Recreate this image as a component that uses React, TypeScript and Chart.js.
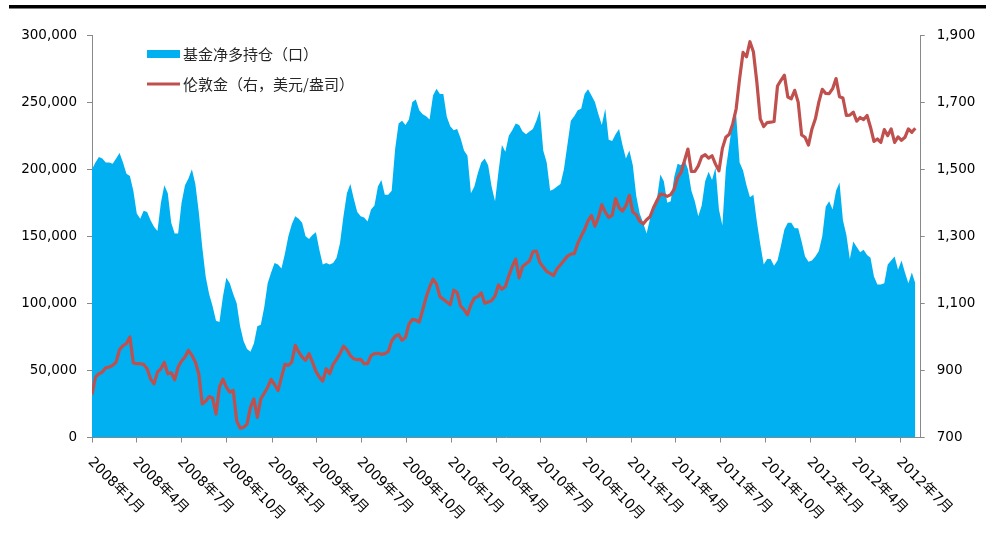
import React, { useEffect, useRef } from 'react';
import { Chart, registerables } from 'chart.js';

Chart.register(...registerables);

// ---- data ----
const seriesNames = ['基金净多持仓（口）', '伦敦金（右，美元/盎司）'];

const xTickLabels = [
  '2008年1月', '2008年4月', '2008年7月', '2008年10月',
  '2009年1月', '2009年4月', '2009年7月', '2009年10月',
  '2010年1月', '2010年4月', '2010年7月', '2010年10月',
  '2011年1月', '2011年4月', '2011年7月', '2011年10月',
  '2012年1月', '2012年4月', '2012年7月',
];

const firstWeek = '2008-01-01'; // weekly observations (Tuesdays)

// fund net long positions (contracts), weekly
const netLong = [
  200000, 205000, 209000, 208000, 205000, 205000, 204000, 208000, 212000, 205000,
  196500, 195000, 184000, 167000, 163000, 169000, 168000, 162000, 157000, 154000,
  175000, 188000, 182000, 160000, 152000, 152000, 175000, 188000, 193000, 200000,
  189000, 168000, 142000, 120000, 107000, 98000, 87000, 86000, 105000, 119000,
  115000, 107000, 100000, 83000, 72000, 66000, 64000, 70000, 83000, 84000,
  97000, 115000, 123000, 130000, 129000, 126000, 137000, 150000, 159000, 165000,
  163000, 160000, 150000, 148000, 151000, 153000, 140000, 129000, 130000, 129000,
  130000, 134000, 145000, 165000, 182000, 189000, 178000, 168000, 165000, 164000,
  161000, 170000, 173000, 187000, 192000, 181000, 181000, 184000, 215000, 234000,
  236000, 233000, 237000, 250000, 252000, 244000, 241000, 239500, 237000, 255000,
  260000, 256000, 256000, 239000, 232000, 229000, 230000, 223000, 214000, 210000,
  182000, 187000, 197000, 205000, 208000, 203000, 187000, 176000, 198000, 218000,
  213000, 225000, 229000, 234000, 233000, 228000, 226000, 228000, 230000, 236000,
  244000, 214000, 205000, 184000, 185000, 187000, 189000, 200000, 218000, 236000,
  239500, 244000, 245000, 256000, 259500, 255000, 250000, 241000, 233000, 245000,
  222000, 221000, 226000, 230000, 218000, 208000, 214000, 203000, 180000, 167000,
  160000, 152000, 163000, 173000, 178000, 196000, 191000, 175000, 176000, 194000,
  204000, 203000, 207000, 200000, 184000, 176000, 165000, 173000, 191000, 198000,
  192000, 201000, 170000, 158000, 200000, 218000, 236000, 240000, 205000, 199000,
  188000, 179000, 181000, 161000, 144000, 129000, 133000, 133000, 128000, 132000,
  143000, 155000, 160000, 160000, 156000, 156000, 146000, 135000, 131000, 132000,
  135000, 139000, 150000, 172000, 176000, 170000, 184000, 190000, 162000, 151000,
  133000, 146000, 142000, 138000, 140000, 136000, 134000, 120000, 114000, 114000,
  115000, 129000, 132000, 135000, 125000, 132000, 123000, 115000, 123000, 115000,
];

// London gold (USD/oz), weekly
const goldPrice = [
  828, 880, 890, 895, 908, 910, 915, 925, 962, 974,
  980, 1000, 922, 920, 920, 918, 905, 875, 860, 895,
  905, 924, 890, 893, 872, 910, 928, 940, 960, 945,
  925, 890, 800, 808, 822, 818, 770, 850, 874, 850,
  835, 840, 750, 728, 730, 740, 790, 815, 760, 815,
  832, 850, 873, 858, 840, 880, 918, 915, 925, 975,
  955, 940, 930, 950, 925, 897, 880, 868, 905, 890,
  918, 933, 950, 972, 962, 944, 935, 932, 933, 920,
  920, 944, 950, 951, 948, 950, 956, 988, 1002, 1007,
  990, 998, 1038, 1052, 1050, 1044, 1080, 1118, 1148, 1172,
  1158, 1120, 1112, 1104, 1096, 1139, 1133, 1092, 1081, 1066,
  1096, 1116, 1120, 1131, 1100, 1104, 1108, 1122, 1155, 1142,
  1150, 1182, 1210, 1232, 1176, 1210, 1218, 1226, 1254, 1256,
  1222, 1208, 1195, 1189, 1183, 1203, 1215, 1228, 1240, 1247,
  1248, 1278, 1300, 1320, 1346, 1362, 1330, 1356, 1394, 1372,
  1356, 1362, 1412, 1385, 1375, 1391, 1422, 1372, 1364, 1345,
  1337, 1349, 1358, 1385, 1406, 1426, 1424, 1419, 1424, 1440,
  1475, 1490, 1525, 1560, 1493, 1493, 1510, 1537, 1543, 1533,
  1540, 1515, 1495, 1562, 1595, 1604, 1635, 1680, 1770, 1848,
  1835, 1880, 1850, 1760, 1650, 1627, 1639, 1640, 1642, 1748,
  1765, 1780, 1715, 1710, 1735, 1700, 1602, 1595, 1572, 1620,
  1650, 1700, 1738, 1726, 1725, 1740, 1770, 1716, 1712, 1660,
  1661, 1670, 1643, 1654, 1648, 1660, 1625, 1583, 1590, 1580,
  1618, 1600, 1620, 1580, 1596, 1586, 1595, 1620, 1610, 1622,
];

// ---- helpers ----
const DAY = 86400000;
const START = Date.parse(firstWeek + 'T00:00:00Z');
const weekDay = (i: number) => i * 7; // days since first week
const tickDay = (label: string) => {
  const m = label.match(/(\d+)年(\d+)月/)!;
  return (Date.UTC(+m[1], +m[2] - 1, 1) - START) / DAY;
};

const AXIS = '#898989';
const LABEL_FONT = '"DejaVu Sans", "Noto Sans CJK SC", sans-serif';

const decorPlugin = {
  id: 'decor',
  afterDraw(chart: any) {
    const ctx = chart.ctx as CanvasRenderingContext2D;
    ctx.save();
    // top rule
    ctx.fillStyle = '#000';
    ctx.fillRect(9, 5, 977, 3.5);
    // legend
    ctx.fillStyle = '#00B0F0';
    ctx.fillRect(147, 50, 33, 8);
    ctx.strokeStyle = '#C0504D';
    ctx.lineWidth = 3;
    ctx.beginPath();
    ctx.moveTo(147, 84);
    ctx.lineTo(180, 84);
    ctx.stroke();
    ctx.fillStyle = '#262626';
    ctx.font = '15px "Noto Sans CJK SC", sans-serif';
    ctx.textAlign = 'left';
    ctx.textBaseline = 'middle';
    ctx.fillText(seriesNames[0], 183, 54);
    ctx.fillText(seriesNames[1], 183, 84);
    // rotated x labels
    const xs = chart.scales.x;
    ctx.fillStyle = '#000';
    ctx.font = '14px ' + LABEL_FONT;
    xTickLabels.forEach((l) => {
      const px = xs.getPixelForValue(tickDay(l));
      ctx.save();
      ctx.translate(px - 2, 460);
      ctx.rotate(Math.PI / 4);
      ctx.fillText(l, 0, 0);
      ctx.restore();
    });
    ctx.restore();
  },
};

export default function App() {
  const ref = useRef<HTMLCanvasElement>(null);

  useEffect(() => {
    if (!ref.current) return;
    const chart = new Chart(ref.current, {
      type: 'line',
      data: {
        datasets: [
          {
            label: seriesNames[1],
            data: goldPrice.map((v, i) => ({ x: weekDay(i), y: v })),
            borderColor: '#C0504D',
            borderWidth: 3.2,
            borderJoinStyle: 'round',
            pointRadius: 0,
            fill: false,
            yAxisID: 'y1',
            order: 1,
          },
          {
            label: seriesNames[0],
            data: netLong.map((v, i) => ({ x: weekDay(i), y: v })),
            backgroundColor: '#00B0F0',
            borderColor: '#00B0F0',
            borderWidth: 0,
            pointRadius: 0,
            fill: 'origin',
            yAxisID: 'y',
            order: 2,
          },
        ],
      },
      options: {
        responsive: false,
        animation: false,
        layout: { padding: { top: 35, left: 0, right: 0, bottom: 0 } },
        plugins: { legend: { display: false }, tooltip: { enabled: false } },
        elements: { line: { tension: 0 } },
        scales: {
          x: {
            type: 'linear',
            min: 0,
            max: 1684,
            afterBuildTicks: (scale: any) => {
              scale.ticks = xTickLabels.map((l) => ({ value: tickDay(l) }));
            },
            afterFit: (scale: any) => {
              scale.height = 97.5;
            },
            ticks: { display: false },
            grid: { drawOnChartArea: false, drawTicks: true, tickLength: 5, color: AXIS },
            border: { display: true, color: AXIS, width: 1 },
          },
          y: {
            position: 'left',
            min: 0,
            max: 300000,
            afterFit: (scale: any) => {
              scale.width = 92;
            },
            ticks: {
              stepSize: 50000,
              color: '#000',
              padding: 10,
              font: { family: LABEL_FONT, size: 13.5 },
              callback: (v: any) => Number(v).toLocaleString('en-US'),
            },
            grid: { drawOnChartArea: false, drawTicks: true, tickLength: 5, color: AXIS },
            border: { display: true, color: AXIS, width: 1 },
          },
          y1: {
            position: 'right',
            min: 700,
            max: 1900,
            afterFit: (scale: any) => {
              scale.width = 65.3;
            },
            ticks: {
              stepSize: 200,
              color: '#000',
              padding: 12,
              font: { family: LABEL_FONT, size: 13.5 },
              callback: (v: any) => Number(v).toLocaleString('en-US'),
            },
            grid: { drawOnChartArea: false, drawTicks: true, tickLength: 4, color: AXIS },
            border: { display: true, color: AXIS, width: 1 },
          },
        },
      },
      plugins: [decorPlugin],
    });
    return () => chart.destroy();
  }, []);

  return (
    <div style={{ position: 'absolute', left: 0, top: 0, width: 986, height: 535, background: '#fff' }}>
      <canvas ref={ref} width={986} height={535} />
    </div>
  );
}
